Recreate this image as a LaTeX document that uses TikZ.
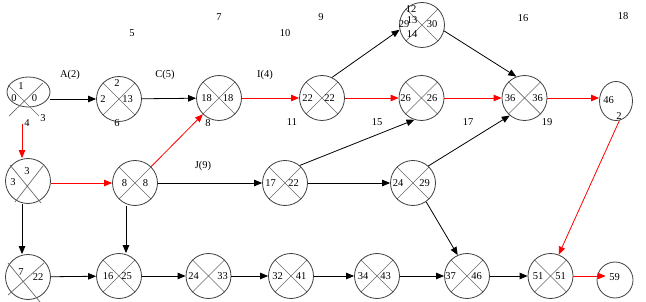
\documentclass[tikz,border=0pt]{standalone}
\usepackage{fontspec}
\setmainfont{Liberation Serif}
\usetikzlibrary{arrows.meta, shapes.geometric}
\definecolor{ringgray}{RGB}{64,64,64}
\definecolor{crossgray}{RGB}{105,105,105}
\definecolor{critred}{RGB}{255,0,0}

\begin{document}
\begin{tikzpicture}[x=1pt, y=-1pt,
    every node/.style={font=\fontsize{10.5}{12}\selectfont},
    ring/.style={circle, draw=ringgray, line width=0.8pt, minimum size=45pt, inner sep=0pt},
    evt/.style={ring, path picture={\draw[crossgray, line width=0.7pt]
        (path picture bounding box.north west) -- (path picture bounding box.south east)
        (path picture bounding box.north east) -- (path picture bounding box.south west);}},
    oval/.style={ellipse, draw=ringgray, line width=0.8pt, inner sep=0pt},
    xline/.style={crossgray, line width=0.7pt},
    num/.style={inner sep=0pt},
    arrow/.style={-{Triangle[length=8pt, width=6.5pt]}, line width=0.8pt, black},
    critical/.style={arrow, critred}
]
\useasboundingbox (0,0) rectangle (646,302);
% events with a cross
\foreach \n/\x/\y/\lx/\rx/\a/\b in {
    n1/119/99/103/127.5/2/13, n2/219/98/206.5/228/18/18, n3/322/98/307.5/329.5/22/22,
    n5/421.5/98/405.5/432/26/26, n6/524.5/98/510/537.5/36/36,
    n9/135/183/124.5/145.5/8/8, n10/285/183/270.5/293.5/17/22, n11/413/183/398/424.5/24/29,
    n13/119/276/108/126.5/16/25, n14/208.5/276/193.5/222.5/24/33, n15/291/276/277.5/301/32/41,
    n16/377/276/363/385.5/34/43, n17/467/276/450.5/476.5/37/46, n18/550.5/276/538/560.5/51/51}
{
  \node[evt] (\n) at (\x,\y) {};
  \node[num] (\n-l) at (\lx,\y) {\a};
  \node[num] (\n-r) at (\rx,\y) {\b};
}
\node[evt] (n4) at (422,25) {};
\node[num] (n4-t) at (411,9.5) {12};
\node[num] (n4-m) at (412,20) {13};
\node[num] (n4-l) at (404,24) {29};
\node[num] (n4-r) at (432,24) {30};
\node[num] (n4-b) at (412,34) {14};
\node[num] (n1-t) at (117,83) {2};
% odd ones
\node[oval, minimum width=43pt, minimum height=30pt] (n0) at (28.5,92) {};
\draw[xline] (8,85) -- (39,116) (43,83) -- (9,116);
\node[num] (n0-t) at (21,86) {1};
\node[num] (n0-l) at (14,98) {0};
\node[num] (n0-r) at (34.5,98) {0};
\node[ring] (n8) at (28,181) {};
\draw[xline] (10,165) -- (41,203) (43,166) -- (15,202);
\node[num] (n8-t) at (27,171) {3};
\node[num] (n8-l) at (13,182) {3};
\node[ring] (n12) at (28,277) {};
\draw[xline] (8,263) -- (40,302) (44,263) -- (8,295);
\node[num] (n12-t) at (21,272) {7};
\node[num] (n12-r) at (38,277) {22};
\node[oval, minimum width=33pt, minimum height=39pt] (n7) at (616,101) {};
\node[num] (n7-l) at (608.5,100) {46};
\node[num] (n7-b) at (619,116) {2};
\node[ring, minimum size=36pt] (n19) at (615,280) {};
\node[num] (n19-l) at (614.5,277) {59};
% loose numbers and activity names
\node[num] (t5) at (132,33) {5};
\node[num] (t7) at (219,17) {7};
\node[num] (t9) at (321,17) {9};
\node[num] (t10) at (285,33) {10};
\node[num] (t16) at (523,18) {16};
\node[num] (t18) at (623,16) {18};
\node[num] (t3) at (43,118) {3};
\node[num] (t4) at (27,123) {4};
\node[num] (t6) at (117,123) {6};
\node[num] (t8) at (208,123) {8};
\node[num] (t11) at (292,122) {11};
\node[num] (t15) at (377,122) {15};
\node[num] (t17) at (468,122) {17};
\node[num] (t19) at (547,122) {19};
\node[num] (actA) at (70,75) {A(2)};
\node[num] (actC) at (165,75) {C(5)};
\node[num] (actI) at (265,75) {I(4)};
\node[num] (actJ) at (203,166) {J(9)};
% critical path
\coordinate (n0s) at (22,124);
\draw[critical] (n0s) -- (n0s |- n8.north);
\draw[critical] (n8.east |- n9) -- (n9);
\draw[critical] (n9) -- (n2);
\draw[critical] (n2) -- (n3);
\draw[critical] (n3) -- (n5);
\draw[critical] (n5) -- (n6);
\draw[critical] (n6) -- (n6 -| n7.west);
\draw[critical] (n7.-80) -- (n18.69);
\draw[critical] (n18) -- ([xshift=9pt]n18 -| n19.west);
% other activities
\draw[arrow] (n0.east |- n1) -- (n1);
\draw[arrow] (n1) -- (n2);
\draw[arrow] (n3.64) -- (n4.192);
\draw[arrow] (n4.345) -- (n6.111);
\draw[arrow] (n9) -- (n10);
\draw[arrow] (n10.50) -- (n5.252);
\draw[arrow] (n10) -- (n11);
\draw[arrow] (n11.48) -- (n6.230);
\draw[arrow] (n11.305) -- (n17.114);
\draw[arrow] ([xshift=-6pt]n8.south) -- ([xshift=-6pt]n8.south |- n12.north);
\draw[arrow] ([xshift=-9pt]n9.south) -- ([xshift=-9pt]n9.south |- n13.north);
\draw[arrow] (n12) -- (n13);
\draw[arrow] (n13) -- (n14);
\draw[arrow] (n14) -- (n15);
\draw[arrow] (n15) -- (n16);
\draw[arrow] (n16) -- (n17);
\draw[arrow] (n17) -- (n18);
\end{tikzpicture}
\end{document}
